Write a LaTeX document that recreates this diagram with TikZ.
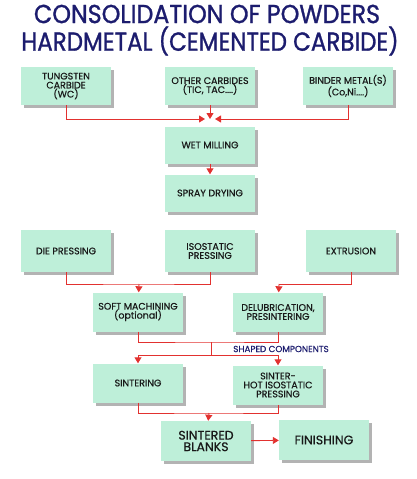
\documentclass[tikz,border=0pt]{standalone}
\usepackage{fontspec}
\setmainfont{Poppins}[FakeBold=0.6]
\newfontfamily\titlefont{Poppins}[FakeBold=1.2]
\usetikzlibrary{arrows.meta}
\usetikzlibrary{positioning,shadows}
\definecolor{mint}{HTML}{BEEFD9}
\definecolor{navy}{HTML}{1C1C6E}
\definecolor{redline}{HTML}{E2312F}

\begin{document}
\begin{tikzpicture}
[>={Triangle[length=6pt,width=7pt]},x=1pt,y=-1pt,
box/.style={rectangle,fill=mint,minimum width=90pt,minimum height=38pt,align=center,
  font=\fontsize{9.5}{9}\selectfont,text=black!90,inner sep=1pt,
  drop shadow={shadow xshift=3pt,shadow yshift=-3pt,fill=black!50,opacity=0.6}},
big/.style={box,font=\fontsize{12.5}{11.5}\selectfont},
ttl/.style={navy,font=\titlefont\fontsize{26}{26}\selectfont,inner sep=0pt},
line/.style={redline,line width=0.9pt},
arr/.style={line,->}]

\useasboundingbox (0,0) rectangle (417,479);

\node[ttl] (t1) at (207,14) {\scalebox{0.915}[1]{CONSOLIDATION OF POWDERS}};
\node[ttl] (t2) at (210,41) {\scalebox{0.885}[1]{HARDMETAL (CEMENTED CARBIDE)}};

\node[box] (wc) at (66,86) {TUNGSTEN\\CARBIDE\\(WC)};
\node[box] (oc) at (210,86) {OTHER CARBIDES\\(TIC, TAC....)};
\node[box] (bm) at (348,86) {BINDER METAL(S)\\(Co,Ni....)};
\node[box,minimum height=37pt] (wm) at (210,145) {WET MILLING};
\node[box,minimum height=37pt] (sd) at (210,193) {SPRAY DRYING};
\node[box,minimum height=42pt] (dp) at (66,251) {DIE PRESSING};
\node[box,minimum height=42pt] (ip) at (210,251) {ISOSTATIC\\PRESSING};
\node[box,minimum height=42pt] (ex) at (351,251) {EXTRUSION};
\node[box,minimum height=39pt] (sm) at (138,312) {SOFT MACHINING\\(optional)};
\node[box,minimum height=39pt] (dl) at (278,312) {DELUBRICATION,\\PRESINTERING};
\node[box,minimum height=39pt] (si) at (138,383) {SINTERING};
\node[box,minimum height=39pt] (hip) at (278,385) {SINTER-\\HOT ISOSTATIC\\PRESSING};
\node[big,minimum height=40pt] (sb) at (206,441) {SINTERED\\BLANKS};
\node[big,minimum height=40pt] (fi) at (324,440) {FINISHING};

\coordinate (mix) at (210,119);
\coordinate (j1) at (139,284);
\coordinate (j2) at (279,284);
\coordinate (j3) at (211,342);
\coordinate (j4) at (211,355);
\coordinate (j5) at (209,413);

\draw[arr,shorten >=5pt] (wc.south) |- (mix);
\draw[arr,shorten >=5pt] (bm.south) |- (mix);
\draw[arr] (oc.south) -- (mix);
\draw[arr] (wm) -- (sd);

\draw[line] (dp.south) |- (j1) -| (ip.south);
\draw[arr] (j1) -- (sm);
\draw[line] (ex.south) |- (j2);
\draw[arr] (j2) -- (dl);

\draw[line] (sm.south) |- (j3) -| (dl.south);
\draw[line] (j3) -- (j4);
\draw[arr] (j4) -| (si.north);
\draw[arr] (j4) -| (hip.north);
\node[navy,font=\fontsize{8.8}{9}\selectfont,inner sep=0pt] (sc) at (281,349) {SHAPED COMPONENTS};

\draw[line] (si.south) |- (j5) -| (hip.south);
\draw[arr] (j5) -- (sb);
\draw[arr] (sb) -- (fi);
\end{tikzpicture}
\end{document}
